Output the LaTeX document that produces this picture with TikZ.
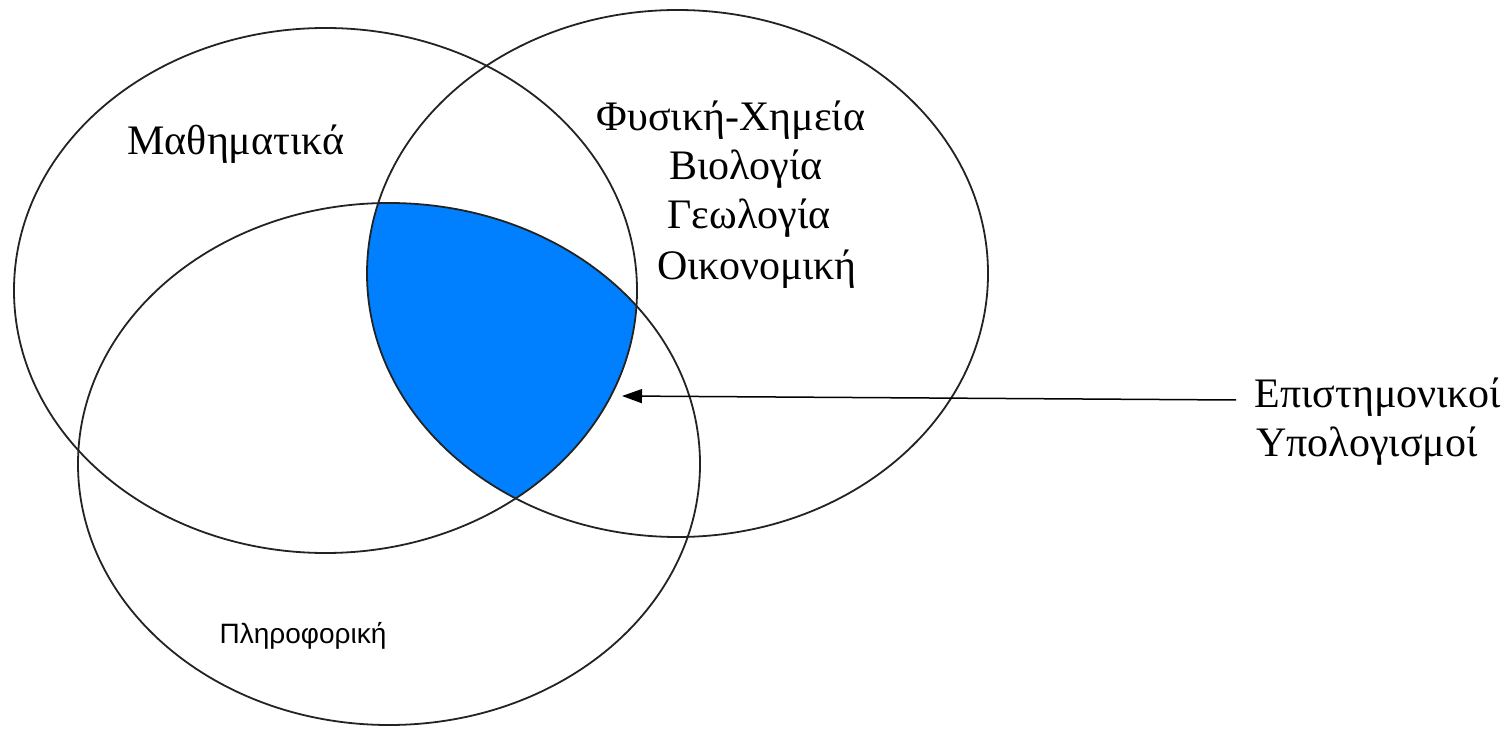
\documentclass[tikz,border=0pt]{standalone}
\usepackage{fontspec}
\setmainfont{Liberation Serif}
\newfontfamily\greeksans{Liberation Sans}
\usetikzlibrary{arrows.meta}
\definecolor{venblue}{RGB}{0,128,255}
\definecolor{lineclr}{RGB}{35,35,35}
\tikzset{
  setline/.style={draw=lineclr, line width=0.9pt},
  lbl/.style={inner sep=0pt, font=\fontsize{21}{25}\selectfont},
  sanslbl/.style={inner sep=0pt, font=\greeksans\fontsize{14}{17}\selectfont},
  pointer/.style={draw=black, line width=0.75pt, -{Triangle[length=10pt,width=7pt]}}
}
\begin{document}
\begin{tikzpicture}[x=0.5pt,y=-0.5pt]
\useasboundingbox (0,0) rectangle (1507,731);
\fill[white] (0,0) rectangle (1507,731);
% intersection of the three sets
\begin{scope}
  \clip (325.5,290.5) ellipse [x radius=311.5, y radius=262.5];
  \clip (677.5,273.5) ellipse [x radius=310.5, y radius=263.5];
  \fill[venblue] (389,464) ellipse [x radius=311, y radius=261];
\end{scope}
% the three sets
\draw[setline] (325.5,290.5) ellipse [x radius=311.5, y radius=262.5];
\draw[setline] (677.5,273.5) ellipse [x radius=310.5, y radius=263.5];
\draw[setline] (389,464) ellipse [x radius=311, y radius=261];
% labels
\node[lbl, anchor=base] (math) at (236,155) {Μαθηματικά};
\node[lbl, anchor=base] (phys1) at (731,131) {Φυσική-Χημεία};
\node[lbl, anchor=base] (phys2) at (746,180) {Βιολογία};
\node[lbl, anchor=base] (phys3) at (749,229) {Γεωλογία};
\node[lbl, anchor=base] (phys4) at (757,280) {Οικονομική};
\node[sanslbl, anchor=base] (info) at (303,643) {Πληροφορική};
\node[lbl, anchor=base west] (sci1) at (1254,408) {Επιστημονικοί};
\node[lbl, anchor=base west] (sci2) at (1256,456) {Υπολογισμοί};
\coordinate (tip) at (622,396);
\draw[pointer] ([xshift=-9pt,yshift=4pt]sci1.base west) -- (tip);
\end{tikzpicture}
\end{document}
